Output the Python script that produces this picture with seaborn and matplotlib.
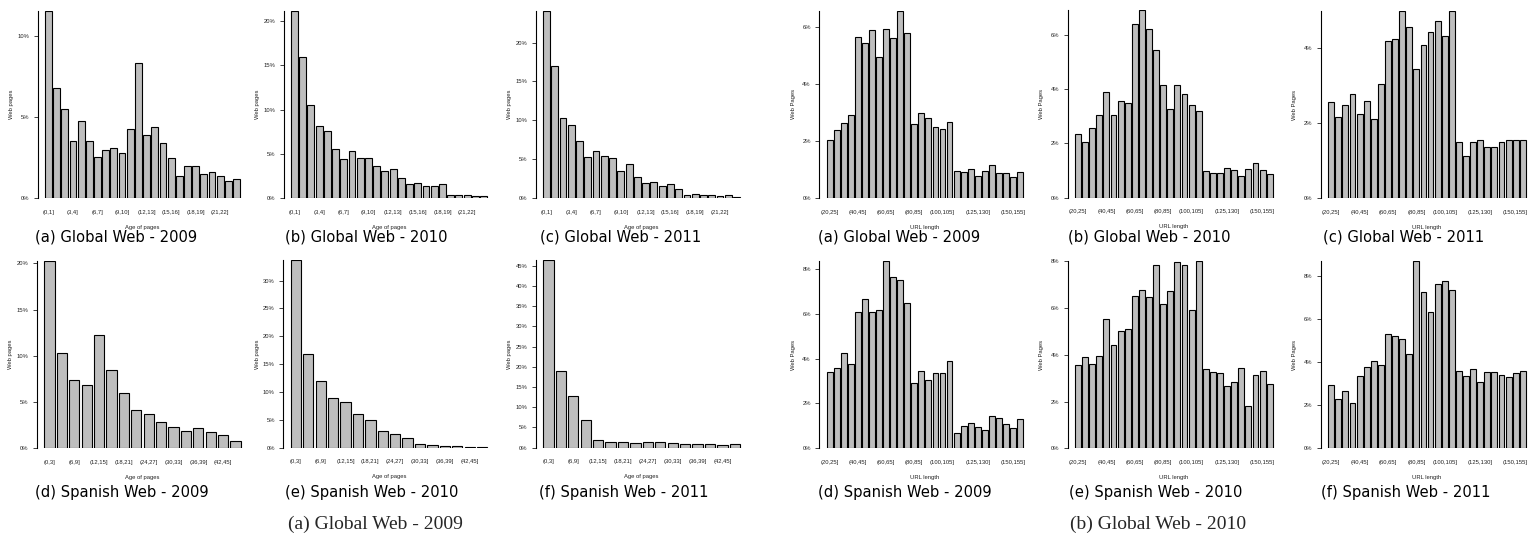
import matplotlib
matplotlib.use("Agg")
import matplotlib.pyplot as plt
import numpy as np
import pandas as pd
import seaborn as sns

# ---------------------------------------------------------------- data
age_global_bins = [f"({i},{i + 1}]" for i in range(24)]
age_spanish_bins = [f"({i},{i + 3}]" for i in range(0, 48, 3)]
url_bins = [f"({i},{i + 5}]" for i in range(20, 160, 5)]

age_global_ticks = [0, 3, 6, 9, 12, 15, 18, 21]
age_spanish_ticks = [0, 2, 4, 6, 8, 10, 12, 14]
url_ticks = [0, 4, 8, 12, 16, 21, 26]

# share of web pages (%) per age bin
age_global_2009 = [11.58, 6.81, 5.49, 3.52, 4.73, 3.54, 2.53, 2.96, 3.11, 2.80,
                   4.26, 8.37, 3.87, 4.40, 3.40, 2.45, 1.38, 1.95, 1.95, 1.50,
                   1.60, 1.34, 1.05, 1.15]
age_global_2010 = [21.2, 16.0, 10.5, 8.1, 7.55, 5.6, 4.45, 5.36, 4.53, 4.53,
                   3.66, 3.06, 3.32, 2.23, 1.58, 1.70, 1.32, 1.32, 1.62, 0.30,
                   0.30, 0.30, 0.26, 0.23]
age_global_2011 = [24.1, 17.0, 10.28, 9.42, 7.37, 5.22, 6.0, 5.44, 5.1, 3.47,
                   4.37, 2.74, 1.93, 2.06, 1.54, 1.80, 1.11, 0.43, 0.47, 0.39,
                   0.34, 0.26, 0.39, 0.17]
age_spanish_2009 = [20.3, 10.3, 7.4, 6.9, 12.3, 8.5, 6.0, 4.1, 3.7, 2.85,
                    2.35, 1.9, 2.15, 1.75, 1.45, 0.75]
age_spanish_2010 = [33.7, 16.8, 11.9, 8.9, 8.2, 6.05, 5.0, 3.0, 2.4, 1.75,
                    0.6, 0.45, 0.25, 0.35, 0.2, 0.15]
age_spanish_2011 = [46.4, 19.0, 12.8, 6.8, 2.0, 1.5, 1.5, 1.15, 1.4, 1.4,
                    1.25, 1.0, 0.8, 0.8, 0.6, 0.8]

# share of web pages (%) per URL length bin
url_global_2009 = [2.03, 2.39, 2.63, 2.91, 5.66, 5.43, 5.90, 4.95, 5.94, 5.63,
                   6.58, 5.79, 2.60, 2.98, 2.80, 2.48, 2.43, 2.67, 0.95, 0.91,
                   1.03, 0.76, 0.95, 1.16, 0.88, 0.88, 0.73, 0.91]
url_global_2010 = [2.35, 2.03, 2.55, 3.03, 3.87, 3.03, 3.55, 3.49, 6.40, 6.91,
                   6.22, 5.42, 4.15, 3.25, 4.15, 3.83, 3.40, 3.19, 0.96, 0.91,
                   0.91, 1.10, 1.00, 0.79, 1.06, 1.27, 1.02, 0.87]
url_global_2011 = [2.56, 2.16, 2.48, 2.79, 2.24, 2.60, 2.12, 3.04, 4.20, 4.24,
                   5.00, 4.56, 3.44, 4.08, 4.44, 4.72, 4.32, 5.00, 1.51, 1.12,
                   1.51, 1.55, 1.36, 1.36, 1.51, 1.55, 1.55, 1.55]
url_spanish_2009 = [3.40, 3.60, 4.25, 3.75, 6.10, 6.65, 6.10, 6.15, 8.37, 7.65,
                    7.50, 6.50, 2.90, 3.45, 3.05, 3.35, 3.35, 3.90, 0.70, 1.00,
                    1.15, 0.95, 0.80, 1.45, 1.35, 1.10, 0.90, 1.30]
url_spanish_2010 = [3.55, 3.89, 3.59, 3.95, 5.51, 4.40, 5.00, 5.09, 6.50, 6.75,
                    6.45, 7.82, 6.15, 6.71, 7.96, 7.82, 5.90, 8.02, 3.40, 3.25,
                    3.20, 2.66, 2.85, 3.45, 1.80, 3.15, 3.29, 2.74]
url_spanish_2011 = [2.95, 2.30, 2.64, 2.10, 3.35, 3.75, 4.06, 3.85, 5.30, 5.19,
                    5.08, 4.39, 8.70, 7.24, 6.30, 7.60, 7.78, 7.34, 3.60, 3.34,
                    3.69, 3.09, 3.54, 3.54, 3.40, 3.29, 3.49, 3.60]

# ---------------------------------------------------------------- style
sns.set_style("white")
plt.rcParams["font.family"] = ["Liberation Sans", "DejaVu Sans"]

W, H = 1538, 548
fig = plt.figure(figsize=(W / 100, H / 100), dpi=100)

BAR_COLOR = "#bebebe"
BAR_W = 0.83
SMALL = 4.2
GAP = 7.5

AGE_LABEL = "Age of pages"
URL_LABEL = "URL length"

# panel layout in pixels: first bar left, last bar right, zero line, top line
panels = [
    (age_global_2009, age_global_bins, age_global_ticks, 5, "Web pages", AGE_LABEL,
     "(a) Global Web - 2009", (45, 240, 198, 10.7), (116, 237)),
    (age_global_2010, age_global_bins, age_global_ticks, 5, "Web pages", AGE_LABEL,
     "(b) Global Web - 2010", (291, 487, 198, 10.7), (366, 237)),
    (age_global_2011, age_global_bins, age_global_ticks, 5, "Web pages", AGE_LABEL,
     "(c) Global Web - 2011", (543, 740, 198, 10.7), (621, 237)),
    (url_global_2009, url_bins, url_ticks, 2, "Web Pages", URL_LABEL,
     "(a) Global Web - 2009", (826.7, 1023, 198, 10.7), (899, 237)),
    (url_global_2010, url_bins, url_ticks, 2, "Web Pages", URL_LABEL,
     "(b) Global Web - 2010", (1075, 1272.7, 197.5, 10), (1149, 237)),
    (url_global_2011, url_bins, url_ticks, 2, "Web Pages", URL_LABEL,
     "(c) Global Web - 2011", (1328.3, 1525.7, 198.3, 10.7), (1404, 237)),
    (age_spanish_2009, age_spanish_bins, age_spanish_ticks, 5, "Web pages", AGE_LABEL,
     "(d) Spanish Web - 2009", (44.3, 240.7, 448.3, 260.7), (122, 493)),
    (age_spanish_2010, age_spanish_bins, age_spanish_ticks, 5, "Web pages", AGE_LABEL,
     "(e) Spanish Web - 2010", (290.7, 487.3, 447.7, 260), (372, 493)),
    (age_spanish_2011, age_spanish_bins, age_spanish_ticks, 5, "Web pages", AGE_LABEL,
     "(f) Spanish Web - 2011", (543.3, 740, 447.7, 260), (624, 493)),
    (url_spanish_2009, url_bins, url_ticks, 2, "Web Pages", URL_LABEL,
     "(d) Spanish Web - 2009", (826.7, 1023, 448.3, 260.7), (905, 493)),
    (url_spanish_2010, url_bins, url_ticks, 2, "Web Pages", URL_LABEL,
     "(e) Spanish Web - 2010", (1075, 1272.7, 448.3, 260.7), (1156, 493)),
    (url_spanish_2011, url_bins, url_ticks, 2, "Web Pages", URL_LABEL,
     "(f) Spanish Web - 2011", (1328.3, 1525.7, 448.3, 260.7), (1406, 493)),
]


def draw_panel(values, bins, shown, ystep, ylabel, xlabel, caption, box, cap_xy):
    left_px, right_px, y0_px, ytop_px = box
    n = len(values)
    ax_left = left_px - GAP
    ax_right = right_px + GAP
    ax_w = ax_right - ax_left
    ax_h = y0_px - ytop_px
    ax = fig.add_axes([ax_left / W, 1 - y0_px / H, ax_w / W, ax_h / H])

    df = pd.DataFrame({"bin": bins, "share": values})
    sns.barplot(data=df, x="bin", y="share", order=bins, color=BAR_COLOR,
                saturation=1, width=BAR_W, edgecolor="black", linewidth=0.8,
                ax=ax)

    ppu = (right_px - left_px) / (n - 1 + BAR_W)
    pad = GAP / ppu
    ax.set_xlim(-BAR_W / 2 - pad, n - 1 + BAR_W / 2 + pad)
    ymax = max(values)
    ax.set_ylim(0, ymax)

    yt = np.arange(0, ymax + 1e-9, ystep)
    ax.set_yticks(yt)
    ax.set_yticklabels([f"{int(v)}%" for v in yt])
    ax.set_xticks(shown)
    ax.set_xticklabels([bins[i] for i in shown])

    ax.tick_params(axis="y", length=3.0, width=0.6, pad=3, labelsize=SMALL,
                   left=True, colors="#222222")
    ax.tick_params(axis="x", length=0, pad=8.3, labelsize=SMALL, colors="#222222")

    for side in ("top", "right", "bottom"):
        ax.spines[side].set_visible(False)
    ax.spines["left"].set_linewidth(0.8)
    ax.spines["left"].set_color("black")

    ax.set_ylabel(ylabel, fontsize=SMALL, color="#222222")
    ax.yaxis.set_label_coords(-26 / ax_w, 0.5)
    ax.yaxis.label.set_va("center")
    ax.set_xlabel(xlabel, fontsize=SMALL, color="#222222")
    ax.xaxis.set_label_coords(0.5, -29 / ax_h)
    ax.xaxis.label.set_va("center")

    fig.text(cap_xy[0] / W, 1 - cap_xy[1] / H, caption, ha="center", va="center",
             fontsize=10.6, family="DejaVu Sans", color="black")


for spec in panels:
    draw_panel(*spec)

# overall captions
fig.text(375 / W, 1 - 524 / H, "(a) Global Web - 2009", ha="center", va="center",
         fontsize=14, family="Liberation Serif")
fig.text(1158 / W, 1 - 524 / H, "(b) Global Web - 2010", ha="center", va="center",
         fontsize=14, family="Liberation Serif")

fig.savefig("out.png", dpi=100, facecolor="white")
